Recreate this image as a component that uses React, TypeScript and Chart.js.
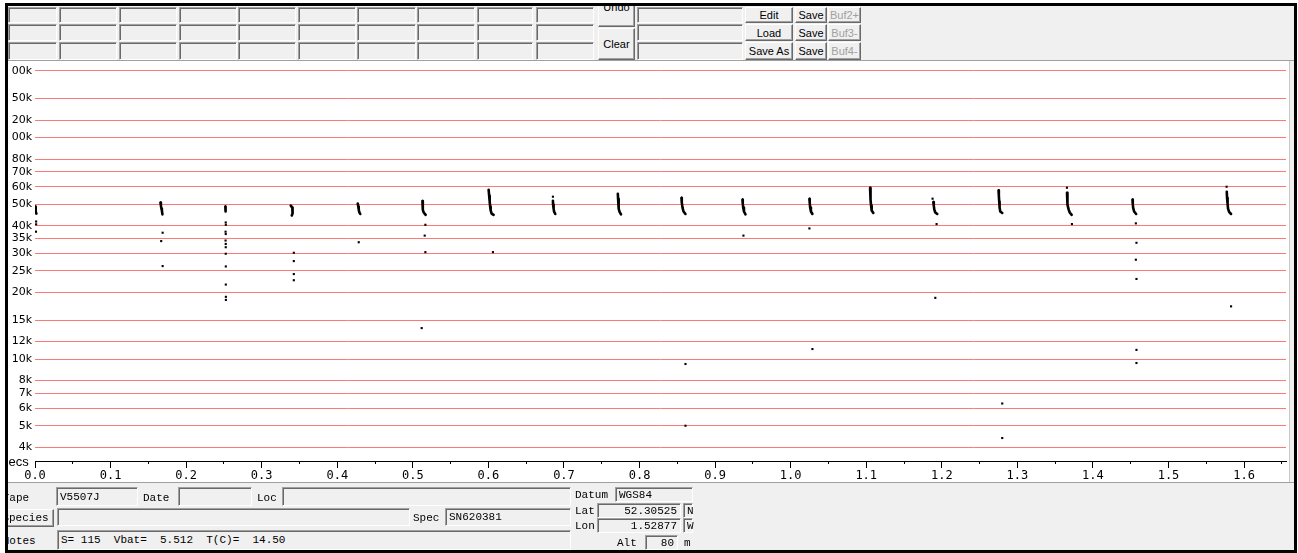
import React, { useEffect, useRef } from 'react';
import { Chart, registerables } from 'chart.js';
Chart.register(...registerables);

// ---- axis definitions ----
const yTickValues = [4, 5, 6, 7, 8, 10, 12, 15, 20, 25, 30, 35, 40, 50, 60, 70, 80, 100, 120, 150, 200]; // kHz
const xMajorTicks = [0.0, 0.1, 0.2, 0.3, 0.4, 0.5, 0.6, 0.7, 0.8, 0.9, 1.0, 1.1, 1.2, 1.3, 1.4, 1.5, 1.6];
const xMinorTicks = [0.05, 0.15, 0.25, 0.35, 0.45, 0.55, 0.65, 0.75, 0.85, 0.95, 1.05, 1.15, 1.25, 1.35, 1.45, 1.55, 1.65];
const xMin = 0;
const xMax = 1.6555;
const yMin = 3.465;
const yMax = 210.6;

// ---- bat pulses: [secs, kHz] ----
const pulse01 = [[0.0004, 48.8], [0.0007, 47.5], [0.0011, 46.4], [0.0018, 45.4]];
const pulse02 = [[0.1660, 50.9], [0.1666, 49.3], [0.1673, 47.8], [0.1679, 46.9], [0.1686, 45.0]];
const pulse03 = [[0.2519, 48.8], [0.2522, 46.4]];
const pulse04 = [[0.3385, 49.3], [0.3405, 48.3], [0.3412, 46.9], [0.3405, 45.4], [0.3398, 44.5]];
const pulse05 = [[0.4271, 50.4], [0.4278, 48.8], [0.4284, 47.3], [0.4291, 46.1], [0.4304, 45.2]];
const pulse06 = [[0.5127, 51.7], [0.5131, 49.3], [0.5133, 47.3], [0.5144, 45.9], [0.5170, 44.8]];
const pulse07 = [[0.6003, 58.2], [0.6010, 54.7], [0.6017, 51.4], [0.6023, 48.8], [0.6030, 46.9], [0.6043, 45.4], [0.6069, 44.8]];
const pulse08 = [[0.6854, 51.9], [0.6856, 49.8], [0.6863, 47.8], [0.6869, 46.4], [0.6885, 45.2]];
const pulse09 = [[0.7713, 55.8], [0.7716, 53.0], [0.7722, 50.4], [0.7726, 47.8], [0.7736, 46.2], [0.7755, 45.0]];
const pulse10 = [[0.8555, 53.5], [0.8559, 50.9], [0.8569, 48.3], [0.8582, 46.4], [0.8608, 45.2]];
const pulse11 = [[0.9362, 52.5], [0.9366, 50.4], [0.9372, 48.3], [0.9382, 46.4], [0.9402, 45.0]];
const pulse12 = [[1.0248, 53.0], [1.0252, 50.9], [1.0258, 48.3], [1.0268, 46.4], [1.0288, 45.2]];
const pulse13 = [[1.1051, 59.4], [1.1055, 55.8], [1.1059, 52.5], [1.1064, 49.3], [1.1072, 46.9], [1.1094, 45.7]];
const pulse14 = [[1.1888, 51.2], [1.1894, 49.3], [1.1901, 47.3], [1.1914, 45.9], [1.1940, 45.2]];
const pulse15 = [[1.2751, 57.9], [1.2755, 54.7], [1.2760, 51.4], [1.2765, 48.3], [1.2774, 46.4], [1.2800, 45.7]];
const pulse16 = [[1.3657, 56.4], [1.3660, 53.0], [1.3666, 49.8], [1.3679, 47.3], [1.3693, 45.9], [1.3719, 44.8]];
const pulse17 = [[1.4523, 52.5], [1.4527, 50.4], [1.4532, 48.3], [1.4545, 46.4], [1.4572, 45.2]];
const pulse18 = [[1.5771, 57.0], [1.5775, 53.5], [1.5782, 50.4], [1.5788, 47.8], [1.5802, 46.2], [1.5828, 45.2]];
const pulses = [pulse01, pulse02, pulse03, pulse04, pulse05, pulse06, pulse07, pulse08, pulse09,
  pulse10, pulse11, pulse12, pulse13, pulse14, pulse15, pulse16, pulse17, pulse18];

// ---- isolated points ----
const dotTimes = [0.0015, 0.0015, 0.0013, 0.1689, 0.1670, 0.1689, 0.2524, 0.2525, 0.2522, 0.2524, 0.2522,
  0.2524, 0.2524, 0.2524, 0.2525, 0.2525, 0.2526, 0.2526, 0.3425, 0.3425, 0.3425, 0.3425, 0.4284,
  0.5166, 0.5157, 0.5166, 0.5117, 0.6060, 0.6854, 0.8608, 0.8608, 0.9375, 1.0248, 1.0288, 1.1878,
  1.1931, 1.1914, 1.2800, 1.2800, 1.3656, 1.3722, 1.4568, 1.4576, 1.4568, 1.4576, 1.4576, 1.4576,
  1.5769, 1.5828];
const dotFreqs = [41.8, 40.6, 37.6, 37.2, 34.1, 26.3, 41.4, 40.4, 37.6, 36.7, 34.3,
  33.1, 32.0, 29.9, 26.2, 21.7, 19.1, 18.5, 30.2, 27.7, 24.2, 22.7, 33.7,
  40.4, 36.1, 30.4, 13.8, 30.4, 54.1, 9.5, 5.0, 36.1, 38.9, 11.1, 53.0,
  40.7, 18.9, 6.3, 4.4, 59.4, 40.7, 41.0, 33.5, 28.1, 23.0, 11.0, 9.6,
  60.0, 17.3];

// ---- panel texts ----
const gridLefts = [8, 59, 119, 179, 238, 298, 357, 417, 477, 536];
const gridRights = [57, 117, 177, 237, 296, 356, 416, 475, 533, 594];
const rowTops = [7, 24, 42];
const rowBottoms = [23, 41, 60];
const buttonCol1 = ['Edit', 'Load', 'Save As'];
const buttonCol2 = ['Save', 'Save', 'Save'];
const buttonCol3 = ['Buf2+', 'Buf3-', 'Buf4-'];

const pos = (x: number, y: number, w: number, h: number): React.CSSProperties => ({
  position: 'absolute', left: x - 8, top: y - 6, width: w, height: h, boxSizing: 'border-box',
});
const sunken: React.CSSProperties = {
  background: '#f0f0f0', borderTop: '1px solid #a0a0a0', borderLeft: '1px solid #a0a0a0',
  borderRight: '1px solid #ffffff', borderBottom: '1px solid #ffffff', boxShadow: 'inset 1px 1px 0 #696969',
};
const raised: React.CSSProperties = {
  background: '#f0f0f0', borderTop: '1px solid #ffffff', borderLeft: '1px solid #ffffff',
  borderRight: '1px solid #696969', borderBottom: '1px solid #696969', boxShadow: 'inset -1px -1px 0 #a0a0a0',
};
const sans: React.CSSProperties = { fontFamily: '"Liberation Sans", Arial, sans-serif', fontSize: 11, color: '#000' };
const mono: React.CSSProperties = { fontFamily: '"Liberation Mono", "Courier New", monospace', fontSize: 11, color: '#000' };

function Btn({ x, y, w, h, text, grey }: { x: number; y: number; w: number; h: number; text: string; grey?: boolean }) {
  return (
    <div style={{ ...pos(x, y, w, h), ...raised, ...sans, color: grey ? '#a0a0a0' : '#000', display: 'flex', alignItems: 'center', justifyContent: 'center', whiteSpace: 'nowrap' }}>{text}</div>
  );
}

function Label({ x, cy, text, style }: { x: number; cy: number; text: string; style?: React.CSSProperties }) {
  return <div style={{ ...pos(x, cy - 7, 200, 14), ...mono, lineHeight: '14px', whiteSpace: 'pre', ...style }}>{text}</div>;
}

function Field({ x, y, w, h, text, right }: { x: number; y: number; w: number; h: number; text?: string; right?: boolean }) {
  return (
    <div style={{ ...pos(x, y, w, h), ...sunken, ...mono, display: 'flex', alignItems: 'center', justifyContent: right ? 'flex-end' : 'flex-start', padding: right ? '0 3px 0 0' : '0 0 0 3px', whiteSpace: 'pre' }}>{text || ''}</div>
  );
}

export default function App() {
  const ref = useRef<HTMLCanvasElement | null>(null);

  useEffect(() => {
    if (!ref.current) return;
    const datasets: any[] = pulses.map((p) => ({
      type: 'scatter',
      data: p.map(([x, y]) => ({ x, y })),
      showLine: true,
      borderColor: '#000',
      borderWidth: 2.6,
      borderCapStyle: 'round',
      borderJoinStyle: 'round',
      pointRadius: 0,
      xAxisID: 'x',
      yAxisID: 'y',
    }));
    datasets.push({
      type: 'scatter',
      data: dotTimes.map((t, i) => ({ x: t, y: dotFreqs[i] })),
      pointRadius: 1.5,
      pointStyle: 'rect',
      backgroundColor: '#000',
      borderWidth: 0,
      xAxisID: 'x',
      yAxisID: 'y',
    });

    const chart = new Chart(ref.current, {
      type: 'scatter',
      data: { datasets },
      options: {
        animation: false,
        responsive: false,
        devicePixelRatio: 1,
        events: [],
        layout: { padding: { left: 0, right: 3, top: 0, bottom: 0 } },
        plugins: { legend: { display: false }, tooltip: { enabled: false } },
        scales: {
          x: {
            type: 'linear', axis: 'x', position: 'bottom', weight: 1, min: xMin, max: xMax,
            afterBuildTicks: (s: any) => { s.ticks = xMajorTicks.map((v) => ({ value: v })); },
            ticks: {
              autoSkip: false, maxRotation: 0, color: '#000', padding: 1,
              font: { family: '"DejaVu Sans Mono", monospace', size: 12 },
              callback: (v: any) => Number(v).toFixed(1),
            },
            grid: { drawOnChartArea: false, drawTicks: true, tickLength: 7, tickColor: '#000', tickWidth: 1 },
            border: { display: true, color: '#000', width: 1 },
            afterFit: (s: any) => { s.height = 21; s.paddingLeft = 0; s.paddingRight = 0; },
          },
          x2: {
            type: 'linear', axis: 'x', position: 'bottom', weight: 0, min: xMin, max: xMax,
            afterBuildTicks: (s: any) => { s.ticks = xMinorTicks.map((v) => ({ value: v })); },
            ticks: { display: false },
            grid: { drawOnChartArea: false, drawTicks: true, tickLength: 3, tickColor: '#000', tickWidth: 1 },
            border: { display: false },
            afterFit: (s: any) => { s.height = 0; s.paddingLeft = 0; s.paddingRight = 0; },
          },
          y: {
            type: 'logarithmic', position: 'left', min: yMin, max: yMax,
            afterBuildTicks: (s: any) => { s.ticks = yTickValues.map((v) => ({ value: v })); },
            ticks: {
              autoSkip: false, color: '#000', padding: 3,
              font: { family: '"DejaVu Sans", sans-serif', size: 11 },
              callback: (v: any) => `${v}k`,
            },
            grid: { color: 'rgb(255,120,120)', lineWidth: 1, drawTicks: false },
            border: { display: false },
            afterFit: (s: any) => { s.width = 23; s.paddingTop = 0; s.paddingBottom = 0; },
          },
        } as any,
      },
    } as any);
    return () => chart.destroy();
  }, []);

  return (
    <div style={{ position: 'absolute', left: 0, top: 0, width: 1298, height: 553, background: '#fff', overflow: 'hidden' }}>
      <div style={{ position: 'absolute', left: 8, top: 6, width: 1286, height: 544, overflow: 'hidden', background: '#f0f0f0' }}>
        {/* toolbar grid */}
        {rowTops.map((t, r) => gridLefts.map((l, c) => (
          <Field key={`g${r}-${c}`} x={l} y={t} w={gridRights[c] - l} h={rowBottoms[r] - t} />
        )))}
        {rowTops.map((t, r) => (
          <Field key={`w${r}`} x={637} y={t} w={106} h={rowBottoms[r] - t} />
        ))}
        <div style={{ ...pos(598, -3, 37, 30), ...raised }} />
        <div style={{ ...pos(598, 1, 37, 12), ...sans, textAlign: 'center', lineHeight: '12px' }}>Undo</div>
        <Btn x={598} y={28} w={37} h={32} text="Clear" />
        {rowTops.map((t, r) => (
          <React.Fragment key={`b${r}`}>
            <Btn x={745} y={t} w={48} h={rowBottoms[r] - t} text={buttonCol1[r]} />
            <Btn x={795} y={t} w={32} h={rowBottoms[r] - t} text={buttonCol2[r]} />
            <Btn x={828} y={t} w={33} h={rowBottoms[r] - t} text={buttonCol3[r]} grey />
          </React.Fragment>
        ))}
        <div style={{ ...pos(8, 60, 1286, 1), background: '#a0a0a0' }} />

        {/* plot area */}
        <div style={{ ...pos(8, 61, 1282, 421), background: '#fff', borderRight: '1px solid #c8c8c8' }} />
        <canvas ref={ref} width={1278} height={420} style={{ ...pos(12, 62, 1278, 420), display: 'block' }} />
        <div style={{ ...pos(2, 455, 40, 13), fontFamily: '"Liberation Sans", Arial, sans-serif', fontSize: 13, lineHeight: '13px', color: '#000' }}>secs</div>
        <div style={{ ...pos(8, 482, 1286, 1), background: '#a0a0a0' }} />

        {/* bottom panel */}
        <Label x={2.7} cy={497.5} text="Tape" />
        <Field x={56} y={487} w={82} h={19} text="V5507J" />
        <Label x={143} cy={497.5} text="Date" />
        <Field x={178} y={487} w={74} h={19} />
        <Label x={257} cy={497.5} text="Loc" />
        <Field x={282} y={487} w={289} h={19} />

        <div style={{ ...pos(1, 509, 53, 18), ...raised }} />
        <Label x={2.4} cy={518} text="Species" />
        <Field x={57} y={508} w={353} h={18} />
        <Label x={413} cy={518} text="Spec" />
        <Field x={445} y={508} w={126} h={18} text="SN620381" />

        <Label x={2.7} cy={540.5} text="Notes" />
        <Field x={57} y={530} w={514} h={20} text="S= 115  Vbat=  5.512  T(C)=  14.50" />

        <Label x={575} cy={495} text="Datum" />
        <Field x={615} y={487} w={78} h={15} text="WGS84" />
        <Label x={575} cy={511} text="Lat" />
        <Field x={597} y={503} w={84} h={15} text="52.30525" right />
        <Field x={683} y={503} w={10} h={15} text="N" />
        <Label x={575} cy={526} text="Lon" />
        <Field x={597} y={518} w={84} h={15} text="1.52877" right />
        <Field x={683} y={518} w={10} h={15} text="W" />
        <Label x={617} cy={543} text="Alt" />
        <Field x={645} y={535} w={33} h={15} text="80" right />
        <Label x={684} cy={543} text="m" />
      </div>
      <div style={{ position: 'absolute', left: 5, top: 3, width: 1292, height: 550, border: '3px solid #000', boxSizing: 'border-box', pointerEvents: 'none' }} />
    </div>
  );
}
